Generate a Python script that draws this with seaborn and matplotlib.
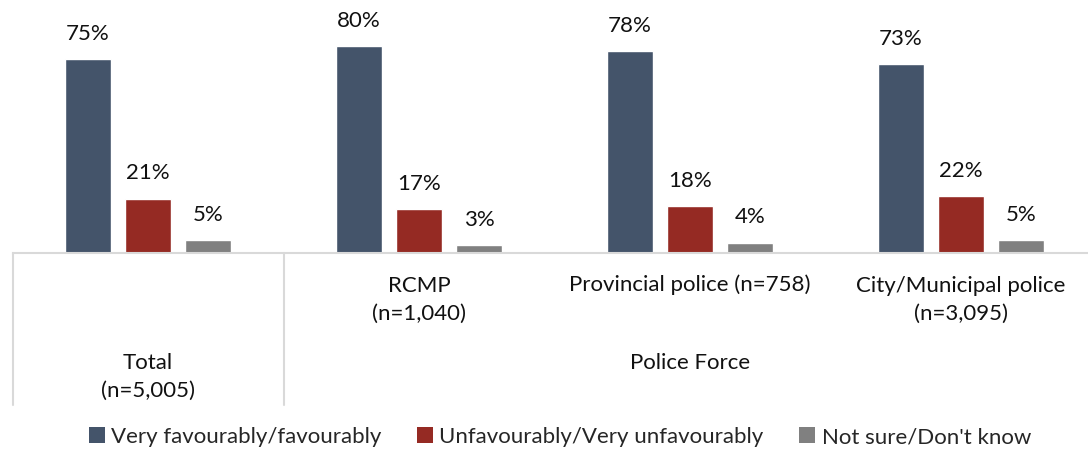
import pandas as pd
import seaborn as sns
import matplotlib.pyplot as plt
from matplotlib.patches import Patch

# data
groups = ['Total', 'RCMP', 'Provincial', 'City']
series = ['Very favourably/favourably', 'Unfavourably/Very unfavourably', 'Not sure/Don\'t know']
fav = [75, 80, 78, 73]
unfav = [21, 17, 18, 22]
unsure = [5, 3, 4, 5]
tick_labels = ['Total\n(n=5,005)', 'RCMP\n(n=1,040)', 'Provincial police (n=758)', 'City/Municipal police\n(n=3,095)']
outer_label = 'Police Force'
colors = ['#44546A', '#952A23', '#808080']

df = pd.DataFrame({'group': groups * 3,
                   'series': [s for s in series for _ in groups],
                   'pct': fav + unfav + unsure})

sns.set_style('white')
plt.rcParams['font.family'] = ['Lato', 'DejaVu Sans']

fig = plt.figure(figsize=(10.88, 4.5), dpi=100)
# axes spans px 12.5..1096.5 horizontally, 0..253 vertically
ax = fig.add_axes([12.5 / 1088, 1 - 253 / 450, 1084 / 1088, 253 / 450])

sns.barplot(data=df, x='group', y='pct', hue='series', order=groups, hue_order=series,
            palette=colors, width=0.664, gap=0.22, ax=ax, legend=False, saturation=1)

for c in ax.containers:
    ax.bar_label(c, fmt='%d%%', padding=11, fontsize=16, color='#111111')

ax.set_xlim(-0.5, 3.5)
ax.set_ylim(0, 97.7)
ax.set_xlabel('')
ax.set_ylabel('')
ax.set_xticks([])
ax.set_yticks([])
for s in ['top', 'right', 'left']:
    ax.spines[s].set_visible(False)
ax.spines['bottom'].set_color('#d9d9d9')
ax.spines['bottom'].set_linewidth(1.5)

# multi-level category axis
trans = ax.get_xaxis_transform()
px = 1 / 253
for x in [-0.5, 0.5]:
    ax.plot([x, x], [0, -152 * px], transform=trans, color='#d9d9d9', lw=1.5, clip_on=False)

for i, lab in enumerate(tick_labels):
    if i == 0:
        ax.text(i, -124 * px, lab, transform=trans, ha='center', va='center',
                fontsize=16, linespacing=1.45, color='#111111')
    else:
        ax.text(i, -32 * px if '\n' not in lab else -47 * px, lab, transform=trans,
                ha='center', va='center', fontsize=16, linespacing=1.45, color='#111111')
ax.text(2, -110 * px, outer_label, transform=trans, ha='center', va='center',
        fontsize=16, color='#111111')

handles = [Patch(facecolor=c, edgecolor='none') for c in colors]
fig.legend(handles, series, loc='center', bbox_to_anchor=(560 / 1088, 13 / 450), ncol=3,
           frameon=False, fontsize=16, handlelength=0.7, handleheight=0.7,
           handletextpad=0.3, columnspacing=1.6)

fig.savefig('out.png', dpi=100)
